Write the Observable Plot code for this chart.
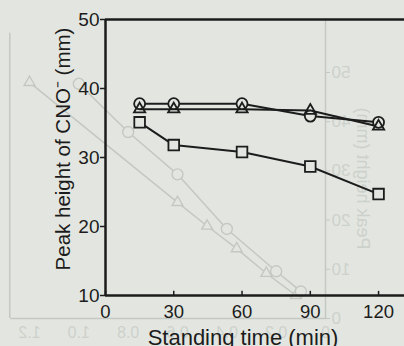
<!DOCTYPE html>
<html>
<head>
<meta charset="utf-8">
<script src="https://cdn.jsdelivr.net/npm/d3@7"></script>
<script src="https://cdn.jsdelivr.net/npm/@observablehq/plot@0.6"></script>
<style>
  html, body { margin: 0; padding: 0; background: #e3e6e0; }
  #wrap { position: relative; width: 404px; height: 346px; overflow: hidden; background: #e3e6e0; }
  #wrap svg { position: absolute; left: 0; top: 0; }
  #ghost svg { transform: scaleX(-1); }
</style>
</head>
<body>
<div id="wrap"><div id="ghost"></div><div id="main"></div></div>
<script>
// ---- main chart data ----
const time = [15, 30, 60, 90, 120];
const circleSeries = [37.8, 37.8, 37.8, 36.0, 35.1];
const triangleSeries = [37.0, 37.0, 37.0, 36.8, 34.5];
const squareSeries = [35.1, 31.8, 30.8, 28.7, 24.7];
const xTicks = [0, 30, 60, 90, 120];
const yTicks = [10, 20, 30, 40, 50];
const xLabel = "Standing time (min)";
const yLabel = "Peak height of CNO\u207B (mm)";

// ---- show-through chart from the reverse of the page (mirrored) ----
const ghostCircleX = [1.0, 0.8, 0.6, 0.4, 0.2, 0.1];
const ghostCircleY = [47.7, 37.9, 29.3, 18.2, 9.6, 5.5];
const ghostTriX = [1.2, 0.6, 0.48, 0.36, 0.24, 0.12];
const ghostTriY = [48.0, 23.6, 18.8, 14.2, 9.2, 4.7];
const ghostXTicks = [0, 0.2, 0.4, 0.6, 0.8, 1.0, 1.2];
const ghostYTicks = [0, 10, 20, 30, 40, 50];
const ghostYLabel = "Peak height (mm)";

const bg = "#e3e6e0";
const ink = "#1c1c1c";
const ghostInk = "#c4c8c3";
const ghostText = "#cdd1cc";
const font = "'Liberation Sans', Arial, sans-serif";

const rows = (xs, ys) => xs.map((x, i) => ({x, y: ys[i]}));

const ghost = Plot.plot({
  width: 404, height: 346,
  marginLeft: 78, marginRight: 30, marginTop: 72, marginBottom: 28,
  x: {domain: [0, 1.2]},
  y: {domain: [0, 50]},
  style: {background: "transparent", fontFamily: font, color: ghostText},
  marks: [
    Plot.ruleX([0], {y1: 0, y2: 61, stroke: ghostInk, strokeWidth: 1.5, clip: false}),
    Plot.ruleX([1.28], {y1: 0, y2: 58, stroke: ghostInk, strokeWidth: 1.5, clip: false}),
    Plot.ruleY([0], {x1: 0, x2: 1.28, stroke: ghostInk, strokeWidth: 1.5}),
    Plot.axisX({ticks: ghostXTicks, tickFormat: d => d === 0 ? "0" : d.toFixed(1), tickSize: 0, tickPadding: 8, fontSize: 16, label: null, fill: ghostText}),
    Plot.axisY({ticks: ghostYTicks, tickSize: 4, tickPadding: 2, fontSize: 17, label: null, stroke: ghostInk, fill: ghostText}),
    Plot.text([ghostYLabel], {frameAnchor: "left", textAnchor: "middle", dx: -37, dy: -17, rotate: -90, fontSize: 18, fill: ghostText}),
    Plot.line(rows(ghostTriX, ghostTriY), {x: "x", y: "y", stroke: ghostInk, strokeWidth: 1.5}),
    Plot.line(rows(ghostCircleX, ghostCircleY), {x: "x", y: "y", stroke: ghostInk, strokeWidth: 1.5}),
    Plot.dot(rows(ghostTriX, ghostTriY), {x: "x", y: "y", symbol: "triangle", r: 4, stroke: ghostInk, fill: bg, strokeWidth: 1.4}),
    Plot.dot(rows(ghostCircleX, ghostCircleY), {x: "x", y: "y", r: 5.5, stroke: ghostInk, fill: bg, strokeWidth: 1.4})
  ]
});
document.getElementById("ghost").appendChild(ghost);

const main = Plot.plot({
  width: 404, height: 346,
  marginLeft: 105, marginRight: 0, marginTop: 19, marginBottom: 51,
  x: {domain: [0, 131.4]},
  y: {domain: [10, 50]},
  style: {background: "transparent", fontFamily: font, color: ink},
  marks: [
    Plot.ruleY([50], {x1: 0, x2: 131.4, stroke: ink, strokeWidth: 2.5}),
    Plot.ruleY([10], {x1: 0, x2: 131.4, stroke: ink, strokeWidth: 2.5}),
    Plot.ruleX([0], {y1: 10, y2: 50, stroke: ink, strokeWidth: 2.5}),
    Plot.ruleX(xTicks, {y1: 10, y2: 10.6, stroke: ink, strokeWidth: 1.5}),
    Plot.axisX({ticks: xTicks, tickSize: 0, tickPadding: 9, fontSize: 18.5, label: null, fill: ink}),
    Plot.axisY({ticks: yTicks, tickSize: 5, tickPadding: 1, fontSize: 19, label: null, stroke: ink, strokeWidth: 1.5, fill: ink}),
    Plot.text([yLabel], {frameAnchor: "left", textAnchor: "middle", dx: -42, dy: -8.5, rotate: -90, fontSize: 20.5, fill: ink}),
    Plot.text([xLabel], {frameAnchor: "bottom", textAnchor: "middle", dx: -12, dy: 34, lineAnchor: "top", fontSize: 22, fill: ink}),
    Plot.line(rows(time, circleSeries), {x: "x", y: "y", stroke: ink, strokeWidth: 2}),
    Plot.line(rows(time, triangleSeries), {x: "x", y: "y", stroke: ink, strokeWidth: 2}),
    Plot.line(rows(time, squareSeries), {x: "x", y: "y", stroke: ink, strokeWidth: 2}),
    Plot.dot(rows(time, circleSeries), {x: "x", y: "y", r: 5.5, stroke: ink, fill: bg, strokeWidth: 1.8}),
    Plot.dot(rows(time, triangleSeries), {x: "x", y: "y", symbol: "triangle", r: 4.2, stroke: ink, fill: "none", strokeWidth: 1.8}),
    Plot.dot(rows(time, squareSeries), {x: "x", y: "y", symbol: "square", r: 6, stroke: ink, fill: bg, strokeWidth: 1.8})
  ]
});
document.getElementById("main").appendChild(main);
</script>
</body>
</html>
